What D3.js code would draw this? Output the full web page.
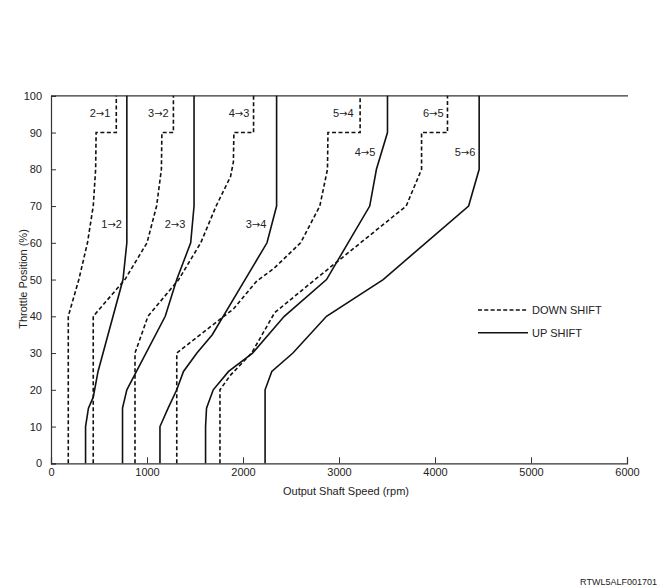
<!DOCTYPE html>
<html>
<head>
<meta charset="utf-8">
<script src="https://cdn.jsdelivr.net/npm/d3@7"></script>
<style>
  html, body { margin: 0; padding: 0; background: #fff; }
  svg { display: block; }
  text { font-family: "Liberation Sans", Arial, Helvetica, sans-serif; fill: #222; }
</style>
</head>
<body>
<svg id="chart" width="661" height="586"></svg>
<script>
// ---- data ----
const xTicks = [0, 1000, 2000, 3000, 4000, 5000, 6000];
const yTicks = [0, 10, 20, 30, 40, 50, 60, 70, 80, 90, 100];

// [output shaft speed (rpm), throttle position (%)]
const down21 = [[180,0],[180,40],[290,50],[380,60],[440,70],[465,80],[470,90],[680,90],[680,100]];
const down32 = [[440,0],[440,40],[770,50],[1000,60],[1100,70],[1150,80],[1155,90],[1275,90],[1275,100]];
const down43 = [[875,0],[875,30],[1010,40],[1330,50],[1560,60],[1720,70],[1870,78],[1900,82],[1905,90],[2110,90],[2110,100]];
const down54 = [[1310,0],[1310,30],[1900,42],[2140,49.5],[2320,53],[2600,60],[2800,70],[2880,80],[2885,90],[3220,90],[3220,100]];
const down65 = [[1760,0],[1760,20],[1870,24],[2090,30],[2330,41],[2750,50],[3700,70],[3860,80],[3860,90],[4130,90],[4130,100]];

const up12 = [[360,0],[360,10],[390,15],[440,18],[490,25],[750,50],[790,60],[790,100]];
const up23 = [[745,0],[745,15],[790,20],[870,24],[1190,40],[1310,50],[1455,60],[1490,70],[1490,100]];
const up34 = [[1135,0],[1135,10],[1220,15],[1310,20],[1380,25],[1520,30],[1680,35],[2250,60],[2350,70],[2350,100]];
const up45 = [[1610,0],[1610,10],[1620,15],[1690,20],[1850,25],[2100,30],[2430,40],[2870,50],[3320,70],[3390,80],[3505,90],[3505,100]];
const up56 = [[2230,0],[2230,20],[2300,25],[2520,30],[2870,40],[3460,50],[4350,70],[4460,80],[4460,100]];

const downShifts = [down21, down32, down43, down54, down65];
const upShifts = [up12, up23, up34, up45, up56];

// label gears with anchor in data units [rpm, %]
const shiftLabels = [
  ["2", "1", 510, 95.2], ["3", "2", 1118, 95.2], ["4", "3", 1958, 95.2],
  ["5", "4", 3045, 95.2], ["6", "5", 3982, 95.2],
  ["4", "5", 3271, 84.7], ["5", "6", 4313, 84.7],
  ["1", "2", 632, 65.2], ["2", "3", 1292, 65.2], ["3", "4", 2135, 65.2]
];
const legendItems = [["DOWN SHIFT", true], ["UP SHIFT", false]];

// ---- layout ----
const svg = d3.select("#chart");
const x = d3.scaleLinear().domain([0, 6000]).range([51, 627]);
const y = d3.scaleLinear().domain([0, 100]).range([463.3, 95.8]);
const axisColor = "#333";

// axes
const gx = svg.append("g").attr("transform", `translate(0,${y(0)})`)
  .call(d3.axisBottom(x).tickValues(xTicks).tickSize(-6).tickPadding(12).tickFormat(d3.format("d")));
const gy = svg.append("g").attr("transform", `translate(${x(0)},0)`)
  .call(d3.axisLeft(y).tickValues(yTicks).tickSize(-5).tickPadding(9).tickFormat(d3.format("d")));
[gx, gy].forEach(g => {
  g.select(".domain").attr("stroke", axisColor).attr("stroke-width", 1.2);
  g.selectAll(".tick line").attr("stroke", axisColor).attr("stroke-width", 1);
  g.selectAll(".tick text").attr("fill", "#222").style("font-size", "11px")
    .style("font-family", '"Liberation Sans", Arial, sans-serif');
});
gx.selectAll(".tick").filter(d => d === 0).select("line").remove();
gy.selectAll(".tick").filter(d => d === 100).select("line").remove();
gx.selectAll(".tick text").attr("dy", "0.35em").attr("y", 9);

// top line at 100%
svg.append("line").attr("x1", x(0)).attr("x2", x(6000) + 1).attr("y1", y(100)).attr("y2", y(100))
  .attr("stroke", axisColor).attr("stroke-width", 1.2);

// shift lines
const line = d3.line().x(d => x(d[0])).y(d => y(d[1]));
svg.append("g").selectAll("path").data(downShifts).join("path")
  .attr("d", line).attr("fill", "none").attr("stroke", "#111")
  .attr("stroke-width", 1.6).attr("stroke-dasharray", "4,2.5");
svg.append("g").selectAll("path").data(upShifts).join("path")
  .attr("d", line).attr("fill", "none").attr("stroke", "#111")
  .attr("stroke-width", 1.6);

// labels
const lbl = svg.append("g").selectAll("text").data(shiftLabels).join("text")
  .attr("x", d => x(d[2])).attr("y", d => y(d[3]))
  .attr("text-anchor", "middle").attr("dy", "0.35em")
  .style("font-size", "11px");
lbl.append("tspan").text(d => d[0]);
lbl.append("tspan").style("font-family", '"DejaVu Sans", sans-serif').style("font-size", "10px").text("\u2192");
lbl.append("tspan").text(d => d[1]);

// legend
const lg = svg.append("g");
legendItems.forEach((item, i) => {
  const ly = 310 + i * 22.7;
  lg.append("line").attr("x1", 478).attr("x2", 528).attr("y1", ly).attr("y2", ly)
    .attr("stroke", "#111").attr("stroke-width", 1.6)
    .attr("stroke-dasharray", item[1] ? "4,2.3" : null);
  lg.append("text").attr("x", 532).attr("y", ly).attr("dy", "0.35em")
    .style("font-size", "11px").text(item[0]);
});

// axis titles
svg.append("text").attr("x", 346).attr("y", 495).attr("text-anchor", "middle")
  .style("font-size", "11px").text("Output Shaft Speed (rpm)");
svg.append("text").attr("transform", "translate(27,279) rotate(-90)")
  .attr("text-anchor", "middle").style("font-size", "11px").text("Throttle Position (%)");

// footer code
svg.append("text").attr("x", 657).attr("y", 585).attr("text-anchor", "end")
  .style("font-size", "9px").text("RTWL5ALF001701");
</script>
</body>
</html>
